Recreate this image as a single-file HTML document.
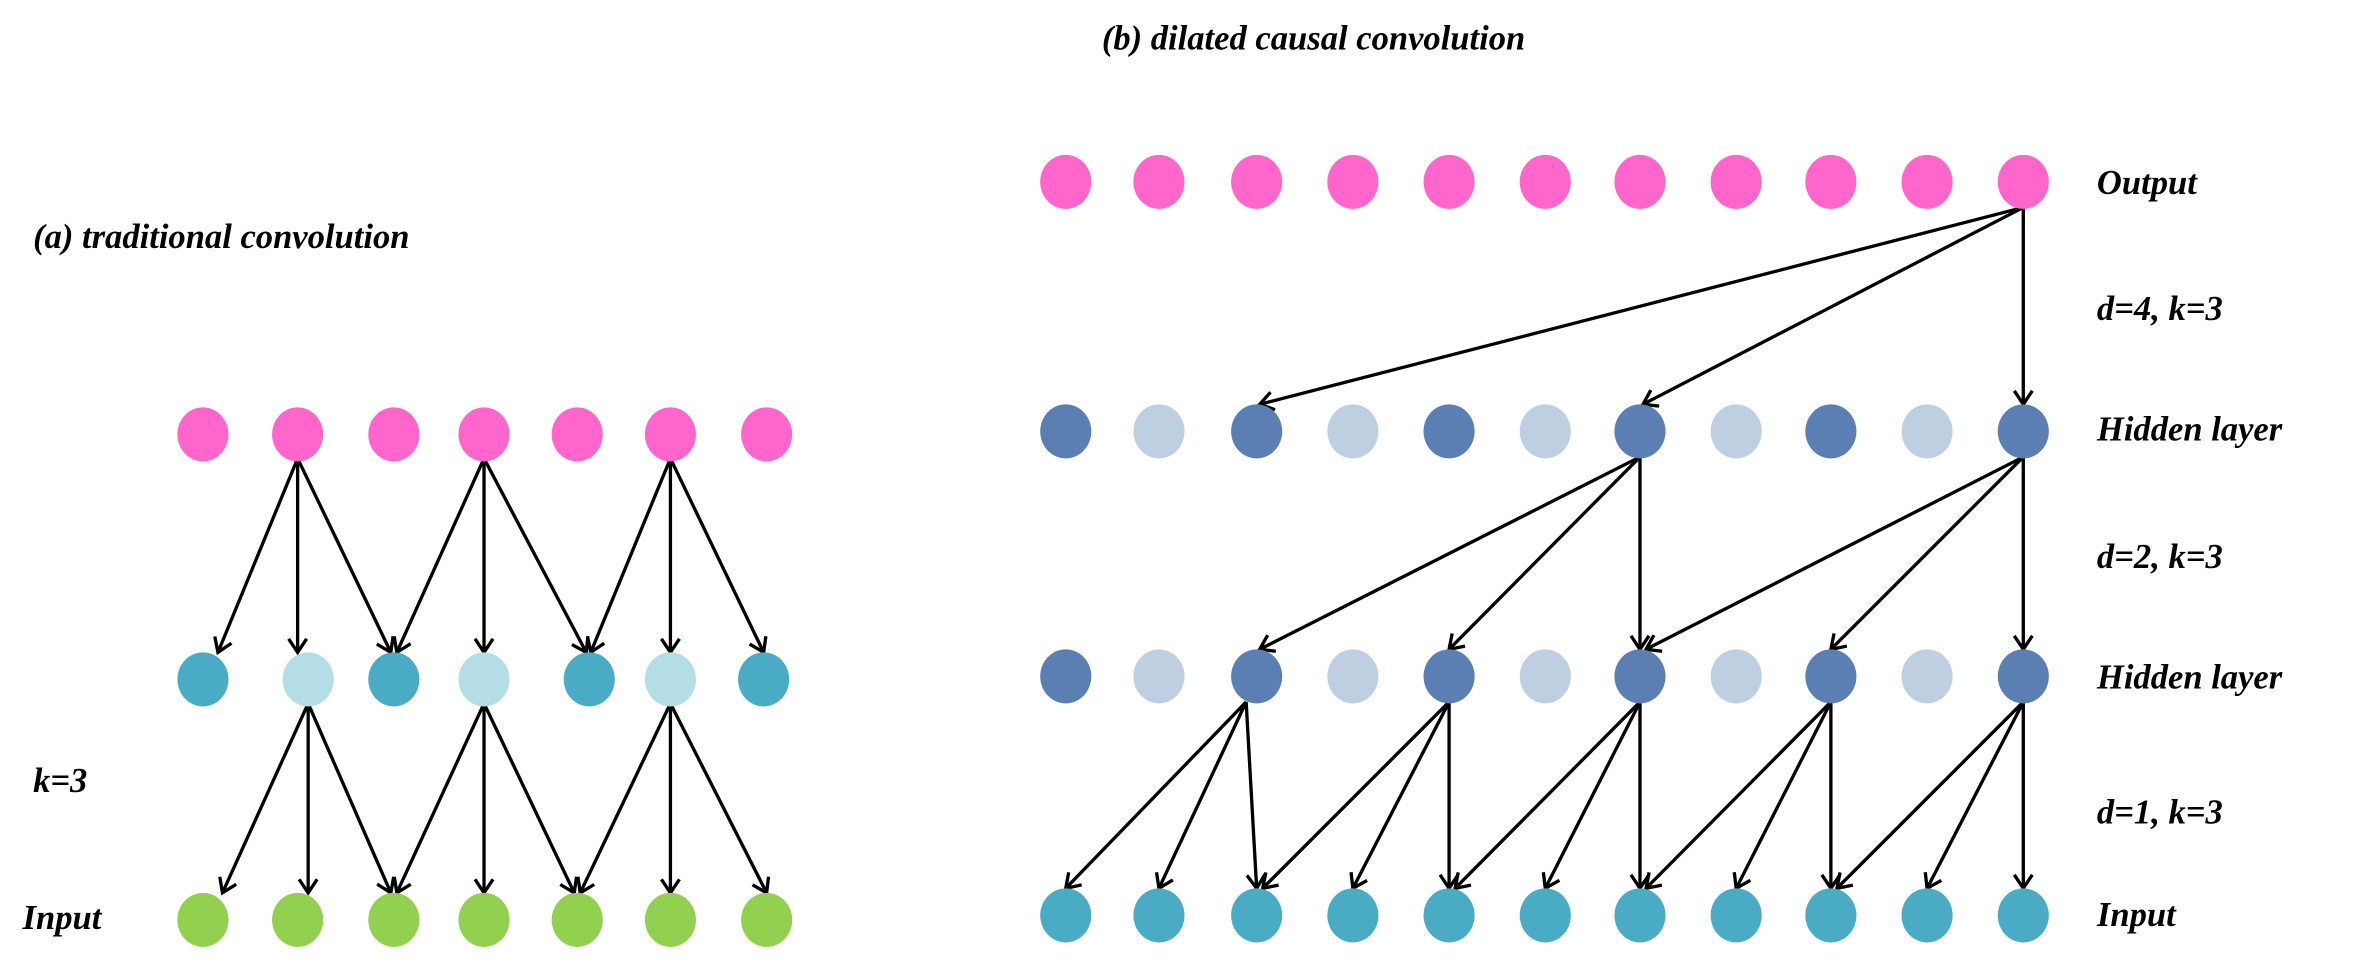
<!DOCTYPE html>
<html><head><meta charset="utf-8"><style>html,body{margin:0;padding:0;background:#fff}svg{display:block}text{font-family:"Liberation Serif",serif;font-weight:bold;font-style:italic;font-size:23px;fill:#000}</style></head><body>
<svg width="2357" height="968" viewBox="0 0 1568 644" preserveAspectRatio="none" xmlns="http://www.w3.org/2000/svg">
<defs><marker id="a" markerWidth="20" markerHeight="20" refX="10" refY="10" orient="auto" markerUnits="userSpaceOnUse"><path d="M1,4 L10,10 L1,16" fill="none" stroke="#000" stroke-width="2.2"/></marker></defs>
<g stroke="#000" stroke-width="2.2" marker-end="url(#a)">
<line x1="198" y1="305" x2="145" y2="434"/><line x1="198" y1="305" x2="198" y2="434"/><line x1="198" y1="305" x2="260" y2="434"/>
<line x1="322" y1="305" x2="264" y2="434"/><line x1="322" y1="305" x2="322" y2="434"/><line x1="322" y1="305" x2="390" y2="434"/>
<line x1="446" y1="305" x2="393" y2="434"/><line x1="446" y1="305" x2="446" y2="434"/><line x1="446" y1="305" x2="508" y2="434"/>
<line x1="205" y1="468" x2="148" y2="594"/><line x1="205" y1="468" x2="205" y2="594"/><line x1="205" y1="468" x2="260" y2="594"/>
<line x1="322" y1="468" x2="264" y2="594"/><line x1="322" y1="468" x2="322" y2="594"/><line x1="322" y1="468" x2="382" y2="594"/>
<line x1="446" y1="468" x2="386" y2="594"/><line x1="446" y1="468" x2="446" y2="594"/><line x1="446" y1="468" x2="510" y2="594"/>
<line x1="1346" y1="138" x2="838" y2="269"/><line x1="1346" y1="138" x2="1093" y2="269"/><line x1="1346" y1="138" x2="1346" y2="269"/>
<line x1="1091" y1="304" x2="838" y2="432"/><line x1="1091" y1="304" x2="964" y2="432"/><line x1="1091" y1="304" x2="1091" y2="432"/>
<line x1="1346" y1="304" x2="1095" y2="432"/><line x1="1346" y1="304" x2="1218" y2="432"/><line x1="1346" y1="304" x2="1346" y2="432"/>
<line x1="829" y1="467" x2="709" y2="591"/><line x1="829" y1="467" x2="771" y2="591"/><line x1="829" y1="467" x2="836" y2="591"/>
<line x1="964" y1="467" x2="840" y2="591"/><line x1="964" y1="467" x2="900" y2="591"/><line x1="964" y1="467" x2="964" y2="591"/>
<line x1="1091" y1="467" x2="968" y2="591"/><line x1="1091" y1="467" x2="1028" y2="591"/><line x1="1091" y1="467" x2="1091" y2="591"/>
<line x1="1218" y1="467" x2="1095" y2="591"/><line x1="1218" y1="467" x2="1155" y2="591"/><line x1="1218" y1="467" x2="1218" y2="591"/>
<line x1="1346" y1="467" x2="1222" y2="591"/><line x1="1346" y1="467" x2="1282" y2="591"/><line x1="1346" y1="467" x2="1346" y2="591"/>
</g>
<g fill="#ff66cc"><ellipse cx="135" cy="289" rx="17" ry="18"/><ellipse cx="198" cy="289" rx="17" ry="18"/><ellipse cx="262" cy="289" rx="17" ry="18"/><ellipse cx="322" cy="289" rx="17" ry="18"/><ellipse cx="384" cy="289" rx="17" ry="18"/><ellipse cx="446" cy="289" rx="17" ry="18"/><ellipse cx="510" cy="289" rx="17" ry="18"/></g>
<g fill="#4aabc5"><ellipse cx="135" cy="452" rx="17" ry="18"/><ellipse cx="262" cy="452" rx="17" ry="18"/><ellipse cx="392" cy="452" rx="17" ry="18"/><ellipse cx="508" cy="452" rx="17" ry="18"/></g>
<g fill="#b5dde6"><ellipse cx="205" cy="452" rx="17" ry="18"/><ellipse cx="322" cy="452" rx="17" ry="18"/><ellipse cx="446" cy="452" rx="17" ry="18"/></g>
<g fill="#92d050"><ellipse cx="135" cy="612" rx="17" ry="18"/><ellipse cx="198" cy="612" rx="17" ry="18"/><ellipse cx="262" cy="612" rx="17" ry="18"/><ellipse cx="322" cy="612" rx="17" ry="18"/><ellipse cx="384" cy="612" rx="17" ry="18"/><ellipse cx="446" cy="612" rx="17" ry="18"/><ellipse cx="510" cy="612" rx="17" ry="18"/></g>
<g fill="#ff66cc"><ellipse cx="709" cy="121" rx="17" ry="18"/><ellipse cx="771" cy="121" rx="17" ry="18"/><ellipse cx="836" cy="121" rx="17" ry="18"/><ellipse cx="900" cy="121" rx="17" ry="18"/><ellipse cx="964" cy="121" rx="17" ry="18"/><ellipse cx="1028" cy="121" rx="17" ry="18"/><ellipse cx="1091" cy="121" rx="17" ry="18"/><ellipse cx="1155" cy="121" rx="17" ry="18"/><ellipse cx="1218" cy="121" rx="17" ry="18"/><ellipse cx="1282" cy="121" rx="17" ry="18"/><ellipse cx="1346" cy="121" rx="17" ry="18"/></g>
<g fill="#5b7fb3"><ellipse cx="709" cy="287" rx="17" ry="18"/><ellipse cx="836" cy="287" rx="17" ry="18"/><ellipse cx="964" cy="287" rx="17" ry="18"/><ellipse cx="1091" cy="287" rx="17" ry="18"/><ellipse cx="1218" cy="287" rx="17" ry="18"/><ellipse cx="1346" cy="287" rx="17" ry="18"/>
<ellipse cx="709" cy="450" rx="17" ry="18"/><ellipse cx="836" cy="450" rx="17" ry="18"/><ellipse cx="964" cy="450" rx="17" ry="18"/><ellipse cx="1091" cy="450" rx="17" ry="18"/><ellipse cx="1218" cy="450" rx="17" ry="18"/><ellipse cx="1346" cy="450" rx="17" ry="18"/></g>
<g fill="#bfcfe2"><ellipse cx="771" cy="287" rx="17" ry="18"/><ellipse cx="900" cy="287" rx="17" ry="18"/><ellipse cx="1028" cy="287" rx="17" ry="18"/><ellipse cx="1155" cy="287" rx="17" ry="18"/><ellipse cx="1282" cy="287" rx="17" ry="18"/>
<ellipse cx="771" cy="450" rx="17" ry="18"/><ellipse cx="900" cy="450" rx="17" ry="18"/><ellipse cx="1028" cy="450" rx="17" ry="18"/><ellipse cx="1155" cy="450" rx="17" ry="18"/><ellipse cx="1282" cy="450" rx="17" ry="18"/></g>
<g fill="#4aabc5"><ellipse cx="709" cy="609" rx="17" ry="18"/><ellipse cx="771" cy="609" rx="17" ry="18"/><ellipse cx="836" cy="609" rx="17" ry="18"/><ellipse cx="900" cy="609" rx="17" ry="18"/><ellipse cx="964" cy="609" rx="17" ry="18"/><ellipse cx="1028" cy="609" rx="17" ry="18"/><ellipse cx="1091" cy="609" rx="17" ry="18"/><ellipse cx="1155" cy="609" rx="17" ry="18"/><ellipse cx="1218" cy="609" rx="17" ry="18"/><ellipse cx="1282" cy="609" rx="17" ry="18"/><ellipse cx="1346" cy="609" rx="17" ry="18"/></g>
<text x="733" y="33">(b) dilated causal convolution</text>
<text x="22" y="165">(a) traditional convolution</text>
<text x="22" y="527">k=3</text>
<text x="15" y="618">Input</text>
<text x="1395" y="129">Output</text>
<text x="1395" y="213">d=4, k=3</text>
<text x="1395" y="293">Hidden layer</text>
<text x="1395" y="378">d=2, k=3</text>
<text x="1395" y="458">Hidden layer</text>
<text x="1395" y="548">d=1, k=3</text>
<text x="1395" y="616">Input</text>
</svg>
</body></html>
